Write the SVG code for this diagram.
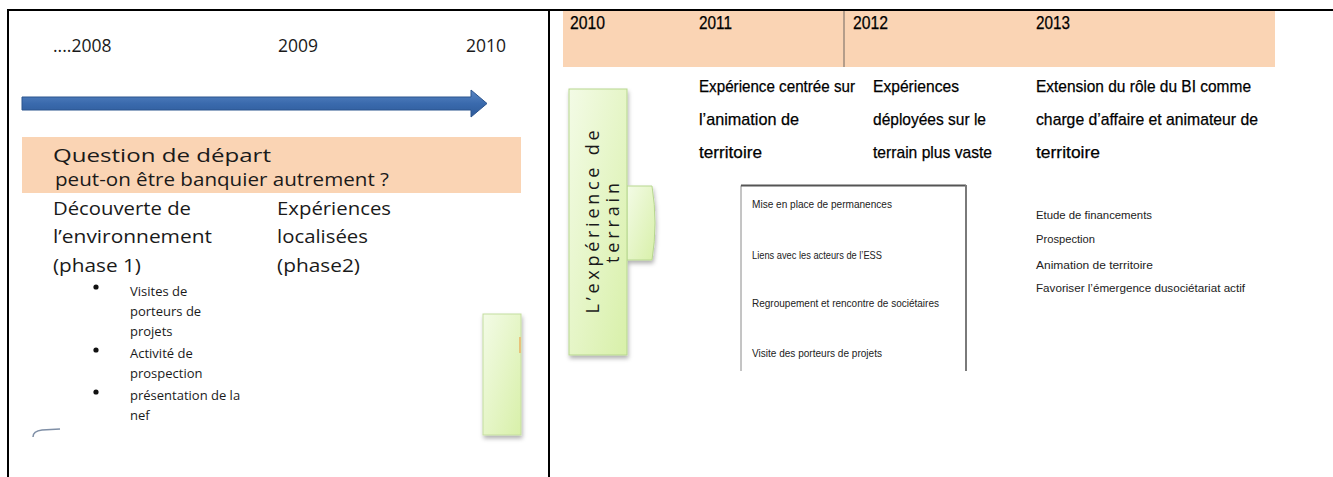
<svg xmlns="http://www.w3.org/2000/svg" width="1333" height="477" viewBox="0 0 1333 477">
<defs>
<style>
.t{font-family:"Open Sans","Liberation Sans",sans-serif;fill:#1a1a1a}
.c{font-family:"Liberation Sans",sans-serif;fill:#000;stroke:#000;stroke-width:0.25}
.s{font-family:"Liberation Sans",sans-serif;fill:#222}
</style>
<linearGradient id="gr" x1="0" y1="0" x2="1" y2="1">
<stop offset="0" stop-color="#f3fbe6"/><stop offset="1" stop-color="#d8f0a9"/>
</linearGradient>
<linearGradient id="ar" x1="0" y1="0" x2="0" y2="1">
<stop offset="0" stop-color="#5a87c4"/><stop offset="0.5" stop-color="#3a6aad"/><stop offset="1" stop-color="#2d5a99"/>
</linearGradient>
<filter id="sh" x="-20%" y="-20%" width="140%" height="140%">
<feDropShadow dx="1" dy="3" stdDeviation="2" flood-color="#000" flood-opacity="0.3"/>
</filter>
</defs>
<rect width="1333" height="477" fill="#fff"/>
<g id="borders" stroke="#000" stroke-width="2">
<line x1="7" y1="10" x2="1333" y2="10"/>
<line x1="8" y1="10" x2="8" y2="477"/>
<line x1="549" y1="10" x2="549" y2="477"/>
</g>
<g id="left-timeline">
<text class="t" x="53" y="52" font-size="17.5">....2008</text>
<text class="t" x="278" y="52" font-size="17.5">2009</text>
<text class="t" x="466" y="52" font-size="17.5">2010</text>
<path d="M22 97 H471 V90 L487 103.5 L471 117 V110 H22 Z" fill="url(#ar)" stroke="#2b548e" stroke-width="1"/>
</g>
<g id="question">
<rect x="22" y="137" width="499" height="56" fill="#fad4b4"/>
<text class="t" x="53" y="162" font-size="18" textLength="218" lengthAdjust="spacingAndGlyphs">Question de départ</text>
<text class="t" x="55" y="186" font-size="18" textLength="334" lengthAdjust="spacingAndGlyphs">peut-on être banquier autrement ?</text>
</g>
<g id="phase1">
<text class="t" x="53" y="215" font-size="19" textLength="138" lengthAdjust="spacingAndGlyphs">Découverte de</text>
<text class="t" x="53" y="243" font-size="19" textLength="159" lengthAdjust="spacingAndGlyphs">l’environnement</text>
<text class="t" x="53" y="272" font-size="19" textLength="88" lengthAdjust="spacingAndGlyphs">(phase 1)</text>
<g fill="#111">
<circle cx="96" cy="287" r="2.6"/><circle cx="96" cy="350" r="2.6"/><circle cx="96" cy="392" r="2.6"/>
</g>
<text class="t" font-size="13" fill="#333">
<tspan x="130" y="296">Visites de</tspan>
<tspan x="130" y="316">porteurs de</tspan>
<tspan x="130" y="336">projets</tspan>
<tspan x="130" y="358">Activité de</tspan>
<tspan x="130" y="378">prospection</tspan>
<tspan x="130" y="400">présentation de la</tspan>
<tspan x="130" y="420">nef</tspan>
</text>
<path d="M33 437 Q33 431 42 430 L60 429" fill="none" stroke="#7f8fa6" stroke-width="1.5"/>
</g>
<g id="phase2">
<text class="t" x="277" y="215" font-size="19" textLength="114" lengthAdjust="spacingAndGlyphs">Expériences</text>
<text class="t" x="277" y="243" font-size="19" textLength="91" lengthAdjust="spacingAndGlyphs">localisées</text>
<text class="t" x="277" y="272" font-size="19" textLength="83" lengthAdjust="spacingAndGlyphs">(phase2)</text>
</g>
<g id="green-partial">
<rect x="483" y="314" width="38" height="121" fill="url(#gr)" stroke="#c4dd9f" stroke-width="1" filter="url(#sh)"/>
<rect x="519" y="337" width="2" height="16" fill="#e8c27a"/>
</g>
<g id="years-band">
<rect x="563" y="11" width="712" height="56" fill="#fad4b4"/>
<line x1="844" y1="11" x2="844" y2="67" stroke="#6e6660" stroke-width="1"/>
<text class="c" x="570" y="29" font-size="18" textLength="35" lengthAdjust="spacingAndGlyphs">2010</text>
<text class="c" x="699" y="29" font-size="18" textLength="33" lengthAdjust="spacingAndGlyphs">2011</text>
<text class="c" x="853" y="29" font-size="18" textLength="35" lengthAdjust="spacingAndGlyphs">2012</text>
<text class="c" x="1036" y="29" font-size="18" textLength="34" lengthAdjust="spacingAndGlyphs">2013</text>
</g>
<g id="terrain">
<g filter="url(#sh)">
<path d="M627 186 H652 Q658 223 652 260 H627 Z" fill="url(#gr)" stroke="#b7d78f" stroke-width="1"/>
<rect x="569" y="89" width="58" height="266" fill="url(#gr)" stroke="#b7d78f" stroke-width="1"/>
</g>
<text class="t" font-size="18" text-anchor="middle" transform="translate(599 222) rotate(-90)" textLength="183" lengthAdjust="spacing">L’expérience de</text>
<text class="t" font-size="18" text-anchor="middle" transform="translate(619 223) rotate(-90)" textLength="80" lengthAdjust="spacing">terrain</text>
</g>
<g id="col2011">
<text class="c" x="699" y="92" font-size="17" textLength="156" lengthAdjust="spacingAndGlyphs">Expérience centrée sur</text>
<text class="c" x="699" y="125" font-size="17" textLength="100" lengthAdjust="spacingAndGlyphs">l’animation de</text>
<text class="c" x="699" y="158" font-size="17" textLength="63" lengthAdjust="spacingAndGlyphs">territoire</text>
</g>
<g id="col2012">
<text class="c" x="873" y="92" font-size="17" textLength="86" lengthAdjust="spacingAndGlyphs">Expériences</text>
<text class="c" x="873" y="125" font-size="17" textLength="113" lengthAdjust="spacingAndGlyphs">déployées sur le</text>
<text class="c" x="873" y="158" font-size="17" textLength="119" lengthAdjust="spacingAndGlyphs">terrain plus vaste</text>
</g>
<g id="col2013">
<text class="c" x="1036" y="92" font-size="17" textLength="215" lengthAdjust="spacingAndGlyphs">Extension du rôle du BI comme</text>
<text class="c" x="1036" y="125" font-size="17" textLength="222" lengthAdjust="spacingAndGlyphs">charge d’affaire et animateur de</text>
<text class="c" x="1036" y="158" font-size="17" textLength="64" lengthAdjust="spacingAndGlyphs">territoire</text>
</g>
<g id="activities-box">
<path d="M741 371 V185.5 H966 V371" fill="none" stroke="#8a8a8a" stroke-width="1"/>
<line x1="741" y1="185.5" x2="966" y2="185.5" stroke="#555" stroke-width="2"/>
<line x1="966" y1="185" x2="966" y2="371" stroke="#7a7a7a" stroke-width="2"/>
<text class="s" x="752" y="208" font-size="11" textLength="140" lengthAdjust="spacingAndGlyphs">Mise en place  de permanences</text>
<text class="s" x="752" y="259" font-size="11" textLength="130" lengthAdjust="spacingAndGlyphs">Liens avec les acteurs de l’ESS</text>
<text class="s" x="752" y="307" font-size="11" textLength="187" lengthAdjust="spacingAndGlyphs">Regroupement et rencontre de sociétaires</text>
<text class="s" x="752" y="357" font-size="11" textLength="130" lengthAdjust="spacingAndGlyphs">Visite des porteurs de projets</text>
</g>
<g id="roles-2013">
<text class="s" x="1036" y="219" font-size="11.5" textLength="116" lengthAdjust="spacingAndGlyphs">Etude de financements</text>
<text class="s" x="1036" y="243" font-size="11.5" textLength="59" lengthAdjust="spacingAndGlyphs">Prospection</text>
<text class="s" x="1036" y="269" font-size="11.5" textLength="117" lengthAdjust="spacingAndGlyphs">Animation de territoire</text>
<text class="s" x="1036" y="292" font-size="11.5" textLength="209" lengthAdjust="spacingAndGlyphs">Favoriser l’émergence dusociétariat actif</text>
</g>
</svg>
